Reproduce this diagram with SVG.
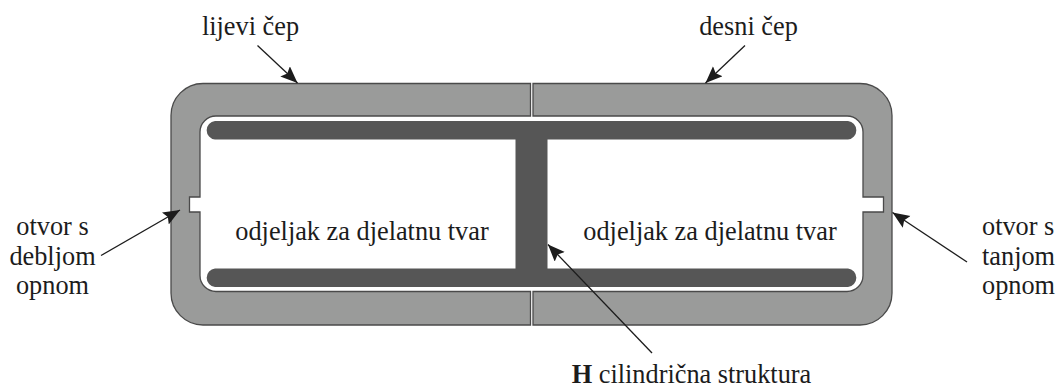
<svg xmlns="http://www.w3.org/2000/svg" width="1060" height="387" viewBox="0 0 1060 387">
<style>
text{font-family:"Liberation Serif","Times New Roman",serif;font-size:26.300px;fill:#1c1c1c}
.m{text-anchor:middle}
.cap{fill:#9a9b9a;stroke:#4a4a4a;stroke-width:1.3}
.bar{fill:#565656}
.ln{fill:none;stroke:#1c1c1c;stroke-width:1.3;marker-end:url(#a)}
</style>
<defs>
<marker id="a" markerUnits="userSpaceOnUse" markerWidth="20" markerHeight="16" refX="17" refY="7" orient="auto">
<path d="M0 0L17 7L0 14L3 7Z" fill="#1c1c1c"/>
</marker>
</defs>
<rect width="1060" height="387" fill="#fff"/>
<g id="lijevi-cep"><path class="cap" d="M530.500 83.500H203A32 32 0 0 0 171 115.500V293A32 32 0 0 0 203 325H530.500V291.500H216A16 16 0 0 1 200 275.500V212H189.500V197H200V132A16 16 0 0 1 216 116H530.500Z"/></g>
<g id="desni-cep"><path class="cap" d="M533 83.500H860A32 32 0 0 1 892 115.500V293A32 32 0 0 1 860 325H533V291.500H847A16 16 0 0 0 863 275.500V212H883.500V197H863V132A16 16 0 0 0 847 116H533Z"/></g>
<g id="h-struktura"><path class="bar" d="M215 121H848A9.300 9.300 0 0 1 848 139.500H547.500V268.500H848A9.300 9.300 0 0 1 848 287H215A9.300 9.300 0 0 1 215 268.500H515.500V139.500H215A9.300 9.300 0 0 1 215 121Z"/></g>
<g id="connectors">
<path class="ln" d="M257.500 45.500L297.500 83"/>
<path class="ln" d="M745 45.500L705.500 83"/>
<path class="ln" d="M101 255.500L180 210"/>
<path class="ln" d="M967 262L892.500 212.500"/>
<path class="ln" d="M652 353L548 244.500"/>
</g>
<g id="labels">
<text class="m" x="250.500" y="35">lijevi čep</text>
<text class="m" x="748.500" y="35">desni čep</text>
<text class="m" x="52.500" y="235">otvor s</text>
<text class="m" x="52.500" y="265">debljom</text>
<text class="m" x="52.500" y="294">opnom</text>
<text x="982" y="235">otvor s</text>
<text x="982" y="265">tanjom</text>
<text x="982" y="294">opnom</text>
<text class="m" x="362" y="240">odjeljak za djelatnu tvar</text>
<text class="m" x="710" y="240">odjeljak za djelatnu tvar</text>
<text class="m" x="691.500" y="383"><tspan font-weight="bold">H</tspan> cilindrična struktura</text>
</g>
</svg>
